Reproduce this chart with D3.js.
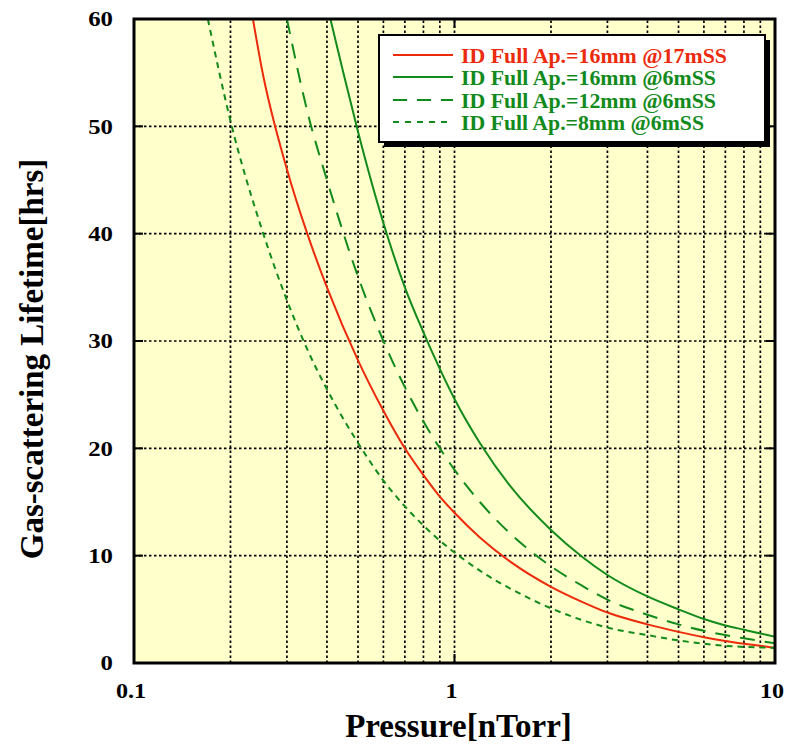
<!DOCTYPE html>
<html>
<head>
<meta charset="utf-8">
<script src="https://cdn.jsdelivr.net/npm/d3@7"></script>
<style>
  body { margin: 0; background: #fff; }
  text { font-family: "Liberation Serif", "Times New Roman", serif; font-weight: bold; }
</style>
</head>
<body>
<div id="chart"></div>
<script>
// values
let xTicks = [0.1, 1, 10];
let yTicks = [0, 10, 20, 30, 40, 50, 60];
let xGrid = [0.2, 0.3, 0.4, 0.5, 0.6, 0.7, 0.8, 0.9, 1, 2, 3, 4, 5, 6, 7, 8, 9];

let redP = [0.235, 0.25, 0.3, 0.35, 0.4, 0.5, 0.6, 0.7, 0.8, 0.9, 1, 1.2, 1.5, 2, 2.5, 3, 4, 5, 6, 7, 8, 9, 10];
let redL = [60, 55.5, 46, 39.7, 35, 28.2, 23.5, 20, 17.5, 15.5, 14, 11.7, 9.4, 7.1, 5.7, 4.7, 3.6, 2.9, 2.4, 2.05, 1.8, 1.6, 1.4];

let g16P = [0.41, 0.45, 0.5, 0.6, 0.7, 0.8, 0.9, 1, 1.2, 1.5, 2, 2.5, 3, 4, 5, 6, 7, 8, 9, 10];
let g16L = [60, 55, 49.5, 41, 35, 30.8, 27.4, 24.6, 20.5, 16.4, 12.4, 9.9, 8.2, 6.2, 5.0, 4.1, 3.5, 3.1, 2.75, 2.45];

let g12P = [0.3, 0.35, 0.4, 0.5, 0.6, 0.7, 0.8, 0.9, 1, 1.2, 1.5, 2, 2.5, 3, 4, 5, 6, 7, 8, 9, 10];
let g12L = [60, 51, 45, 36, 30, 25.7, 22.5, 20, 18, 15, 12, 9.0, 7.2, 5.9, 4.5, 3.6, 3.0, 2.6, 2.3, 2.05, 1.85];

let g8P = [0.17, 0.2, 0.25, 0.3, 0.35, 0.4, 0.5, 0.6, 0.7, 0.8, 0.9, 1, 1.2, 1.5, 2, 2.5, 3, 4, 5, 6, 7, 8, 9, 10];
let g8L = [60, 50.5, 40.5, 33.8, 29, 25.5, 20.5, 17, 14.6, 12.8, 11.4, 10.3, 8.6, 6.9, 5.1, 4.0, 3.3, 2.6, 2.1, 1.8, 1.6, 1.5, 1.45, 1.4];

let seriesNames = ["ID Full Ap.=16mm @17mSS", "ID Full Ap.=16mm @6mSS", "ID Full Ap.=12mm @6mSS", "ID Full Ap.=8mm @6mSS"];
let seriesColors = ["#ec2a0c", "#128a1c", "#128a1c", "#128a1c"];
let seriesDash = [null, null, "15,10", "6,5"];

let series = [
  redP.map((p, i) => [p, redL[i]]),
  g16P.map((p, i) => [p, g16L[i]]),
  g12P.map((p, i) => [p, g12L[i]]),
  g8P.map((p, i) => [p, g8L[i]])
];

let width = 789, height = 746;
let margin = {left: 134, right: 14, top: 19, bottom: 83};

let svg = d3.select('#chart')
    .append('svg')
    .attr('width', width)
    .attr('height', height);

let x = d3.scaleLog().domain([0.1, 10]).range([margin.left, width - margin.right]);
let y = d3.scaleLinear().domain([0, 60]).range([height - margin.bottom, margin.top]);

let x0 = x.range()[0], x1 = x.range()[1];
let y0 = y.range()[0], y1 = y.range()[1];

//plot background
svg.append('rect')
    .attr('x', x0).attr('y', y1)
    .attr('width', x1 - x0).attr('height', y0 - y1)
    .style('fill', '#ffffcc');

svg.append('clipPath').attr('id', 'clip')
    .append('rect')
    .attr('x', x0).attr('y', y1)
    .attr('width', x1 - x0).attr('height', y0 - y1);

//dotted grid
svg.append('g').selectAll('line')
    .data(xGrid)
    .enter()
    .append('line')
    .attr('x1', d => x(d)).attr('x2', d => x(d))
    .attr('y1', y0).attr('y2', y1)
    .style('stroke', '#000').style('stroke-width', 1.7).style('stroke-dasharray', '2.5,2.5');

svg.append('g').selectAll('line')
    .data(yTicks.slice(1, -1))
    .enter()
    .append('line')
    .attr('x1', x0).attr('x2', x1)
    .attr('y1', d => y(d)).attr('y2', d => y(d))
    .style('stroke', '#000').style('stroke-width', 1.7).style('stroke-dasharray', '2.5,2.5');

//inward major ticks
let tickLen = 9;
svg.append('g').selectAll('line')
    .data(yTicks)
    .enter()
    .append('line')
    .attr('x1', x0).attr('x2', x0 + tickLen)
    .attr('y1', d => y(d)).attr('y2', d => y(d))
    .style('stroke', '#000').style('stroke-width', 2);
svg.append('g').selectAll('line')
    .data(yTicks)
    .enter()
    .append('line')
    .attr('x1', x1).attr('x2', x1 - tickLen)
    .attr('y1', d => y(d)).attr('y2', d => y(d))
    .style('stroke', '#000').style('stroke-width', 2);
svg.append('g').selectAll('line')
    .data(xTicks)
    .enter()
    .append('line')
    .attr('x1', d => x(d)).attr('x2', d => x(d))
    .attr('y1', y0).attr('y2', y0 - tickLen)
    .style('stroke', '#000').style('stroke-width', 2);
svg.append('g').selectAll('line')
    .data(xTicks)
    .enter()
    .append('line')
    .attr('x1', d => x(d)).attr('x2', d => x(d))
    .attr('y1', y1).attr('y2', y1 + tickLen)
    .style('stroke', '#000').style('stroke-width', 2);

//curves
let line = d3.line()
    .x(d => x(d[0]))
    .y(d => y(d[1]))
    .curve(d3.curveMonotoneX);

svg.append('g').attr('clip-path', 'url(#clip)')
    .selectAll('path')
    .data(series)
    .enter()
    .append('path')
    .attr('d', line)
    .style('fill', 'none')
    .style('stroke', (d, i) => seriesColors[i])
    .style('stroke-width', 2)
    .style('stroke-dasharray', (d, i) => seriesDash[i]);

//frame
svg.append('rect')
    .attr('x', x0).attr('y', y1)
    .attr('width', x1 - x0).attr('height', y0 - y1)
    .style('fill', 'none').style('stroke', '#000').style('stroke-width', 3);

//tick labels (reference font is a bit wider, so scale x)
svg.append('g').selectAll('text')
    .data(yTicks)
    .enter()
    .append('text')
    .attr('transform', d => 'translate(' + (x0 - 21) + ',' + y(d) + ') scale(1.18,1)')
    .attr('dy', '0.35em')
    .attr('text-anchor', 'end')
    .style('font-size', '21px')
    .text(d => d);

svg.append('g').selectAll('text')
    .data(xTicks)
    .enter()
    .append('text')
    .attr('transform', d => 'translate(' + (x(d) - 3) + ',' + (y0 + 35) + ') scale(1.15,1)')
    .attr('text-anchor', 'middle')
    .style('font-size', '21px')
    .text(d => d);

//axis titles
svg.append('text')
    .attr('x', (x0 + x1) / 2 + 4)
    .attr('y', 737)
    .attr('text-anchor', 'middle')
    .style('font-size', '33px')
    .text('Pressure[nTorr]');

svg.append('text')
    .attr('transform', 'translate(' + 43 + ',' + 359 + ') rotate(-90)')
    .attr('text-anchor', 'middle')
    .style('font-size', '33px')
    .text('Gas-scattering Lifetime[hrs]');

//legend
let lg = {x: 379, y: 35, w: 386, h: 107};
svg.append('rect')
    .attr('x', lg.x + 5).attr('y', lg.y + 5)
    .attr('width', lg.w).attr('height', lg.h)
    .style('fill', '#000');
svg.append('rect')
    .attr('x', lg.x).attr('y', lg.y)
    .attr('width', lg.w).attr('height', lg.h)
    .style('fill', '#fff').style('stroke', '#000').style('stroke-width', 2);

let rowY = [55, 77, 100, 122];
let rowTextW = [266, 255, 255, 243];
svg.append('g').selectAll('line')
    .data(seriesNames)
    .enter()
    .append('line')
    .attr('x1', 393).attr('x2', 453)
    .attr('y1', (d, i) => rowY[i]).attr('y2', (d, i) => rowY[i])
    .style('stroke', (d, i) => seriesColors[i])
    .style('stroke-width', 2)
    .style('stroke-dasharray', (d, i) => i == 2 ? '14,10' : (i == 3 ? '6,6' : null));

svg.append('g').selectAll('text')
    .data(seriesNames)
    .enter()
    .append('text')
    .attr('x', 461)
    .attr('y', (d, i) => rowY[i])
    .attr('dy', '0.35em')
    .attr('textLength', (d, i) => rowTextW[i])
    .attr('lengthAdjust', 'spacingAndGlyphs')
    .style('font-size', '22px')
    .style('fill', (d, i) => seriesColors[i])
    .text(d => d);
</script>
</body>
</html>
